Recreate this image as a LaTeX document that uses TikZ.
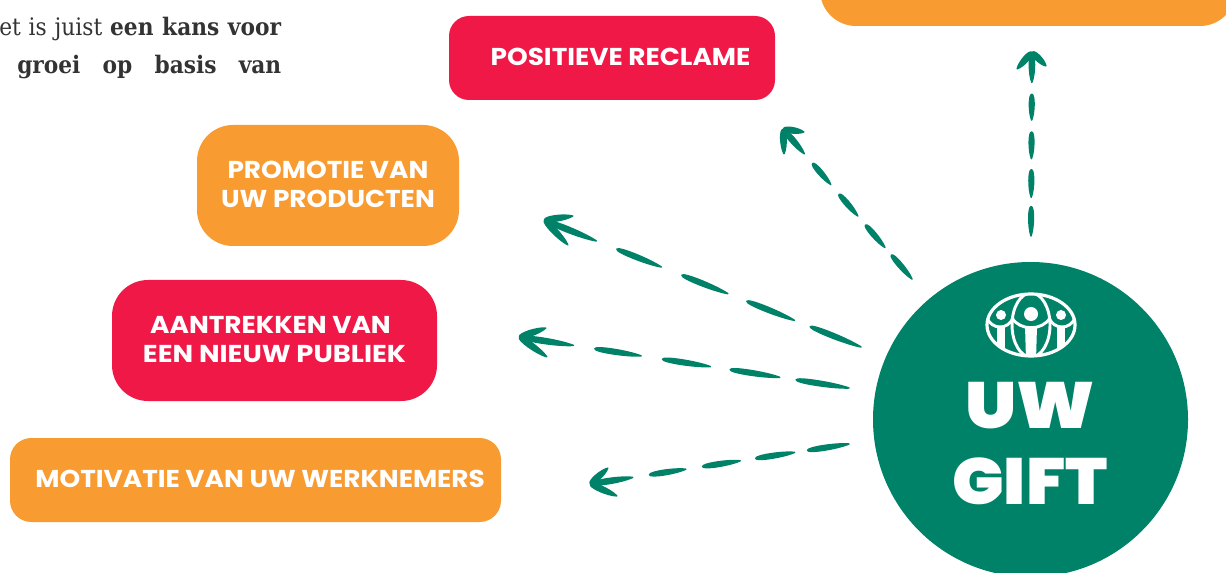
\documentclass[tikz,border=0pt]{standalone}
\usepackage{fontspec}
\usepackage{graphicx}
\usetikzlibrary{calc}
\setmainfont{DejaVu Serif Condensed}
\newfontfamily\lblfont{Poppins}[UprightFont=* SemiBold,BoldFont=* Bold,FakeStretch=1.08]
\newfontfamily\bigfont{Poppins}[UprightFont=* Black,FakeStretch=1.05]
\definecolor{gred}{HTML}{F01847}
\definecolor{gorange}{HTML}{F89B31}
\definecolor{ggreen}{HTML}{008268}
\definecolor{gtext}{HTML}{333333}
\tikzset{
  pill/.style={inner sep=0pt,text=white,align=center,text depth=1.5pt,font={\lblfont\bfseries\fontsize{18.3}{21.75}\selectfont}},
  para/.style={inner sep=0pt,text=gtext,anchor=base,font={\fontsize{18.1}{20}\selectfont}},
  flowfill/.style={fill=ggreen,draw=ggreen,line width=1.1pt,line join=round},
  logo/.style={draw=white,line width=2.2pt}
}
\newcommand\gdash[5]{%
  \coordinate (P) at ($(#1)!#3!(#2)$);
  \coordinate (Q) at ($(#1)!#4!(#2)$);
  \path[flowfill] (P) .. controls ($(P)!.3!(Q)!#5!90:(Q)$) and ($(Q)!#5!-90:(P)$) .. (Q)
    .. controls ($(Q)!#5!90:(P)$) and ($(P)!.3!(Q)!#5!-90:(Q)$) .. cycle;}
\newcommand\gflow[4]{%
  \foreach \ta/\tb in {0/.16,.21/.36,.42/.565,.63/.77}{\gdash{#1}{#2}{\ta}{\tb}{2.35pt}}
  \gdash{#1}{#2}{.835}{.99}{2.6pt}
  \gdash{#3}{#2}{0.01}{.98}{2.7pt}
  \gdash{#4}{#2}{0.01}{.98}{2.7pt}}
\begin{document}
\begin{tikzpicture}[x=.75pt,y=-.75pt]
\useasboundingbox (0,0) rectangle (1226,573);
% paragraph fragment
\node[para,anchor=base west] (p1) at (-1,36) {\makebox[211.5pt][s]{et is juist \textbf{een kans voor}}};
\node[para,anchor=base west] (p2) at (17,74) {\makebox[198pt][s]{\textbf{groei}\hfill\textbf{op}\hfill\textbf{basis}\hfill\textbf{van}}};
% boxes
\node[pill,fill=gorange,rounded corners=27pt,minimum width=312pt,minimum height=90pt] (top) at (1028,-34) {};
\node[pill,fill=gred,rounded corners=15pt,minimum width=244.5pt,minimum height=63pt] (pos) at (612,58) {\hspace*{12.75pt}POSITIEVE RECLAME};
\node[pill,fill=gorange,rounded corners=27pt,minimum width=196.5pt,minimum height=90.75pt] (pro) at (328,185.5) {PROMOTIE VAN\\UW PRODUCTEN};
\node[pill,fill=gred,rounded corners=27pt,minimum width=243.75pt,minimum height=90.75pt] (aan) at (274.5,340.5) {\hspace*{-6pt}AANTREKKEN VAN\\\scalebox{1.04}[1]{EEN NIEUW PUBLIEK}};
\node[pill,fill=gorange,rounded corners=16pt,minimum width=368.25pt,minimum height=63pt] (mot) at (255.5,480) {\hspace*{7pt}MOTIVATIE VAN UW WERKNEMERS};
% gift
\node[circle,fill=ggreen,inner sep=0pt,minimum size=236.25pt] (gift) at (1030.5,419.5) {};
\node[inner sep=0pt,text=white,anchor=base,font={\bigfont\fontsize{49}{57}\selectfont}] (uw) at (1030,428) {\scalebox{1.04}[1]{UW}};
\node[inner sep=0pt,text=white,anchor=base,font={\bigfont\fontsize{49}{57}\selectfont}] (giftt) at (1030,504) {GIFT};
% logo
\begin{scope}
  \clip (1031,325) ellipse [x radius=45,y radius=32];
  \draw[logo] (1031,325) ellipse [x radius=19,y radius=32];
  \draw[logo] (1012,318) .. controls (1020,331) and (1042,331) .. (1050,318);
  \draw[logo] (987,318) .. controls (992,330) and (1008,330) .. (1013,318);
  \draw[logo] (1049,318) .. controls (1054,330) and (1070,330) .. (1075,318);
  \fill[white] (1025,326) -- (1037,326) -- (1036,360) -- (1026,360) -- cycle;
  \fill[white] (997,326) -- (1005,326) -- (1005,360) -- (997,360) -- cycle;
  \fill[white] (1057,326) -- (1065,326) -- (1065,360) -- (1057,360) -- cycle;
  \fill[white] (1031,314) circle [radius=7];
  \fill[white] (1001,315) circle [radius=5];
  \fill[white] (1061,315) circle [radius=5];
\end{scope}
\draw[white,line width=2.4pt] (1031,325) ellipse [x radius=44,y radius=31];
% connectors
\coordinate (s1) at (861,347); \coordinate (t1) at (544,220); \coordinate (a1) at (573,216); \coordinate (b1) at (568,245);
\coordinate (s2) at (849,388); \coordinate (t2) at (519,337); \coordinate (a2) at (546,328); \coordinate (b2) at (547,357);
\coordinate (s3) at (849,444); \coordinate (t3) at (590,484); \coordinate (a3) at (608,468); \coordinate (b3) at (617,496);
\coordinate (s4) at (912,279); \coordinate (t4) at (783,129); \coordinate (a4) at (804,132); \coordinate (b4) at (784,154);
\coordinate (s5) at (1031,236); \coordinate (t5) at (1032,52); \coordinate (a5) at (1017,69); \coordinate (b5) at (1046,66);
\gflow{s1}{t1}{a1}{b1}
\gflow{s2}{t2}{a2}{b2}
\gflow{s3}{t3}{a3}{b3}
\gflow{s4}{t4}{a4}{b4}
\gflow{s5}{t5}{a5}{b5}
\end{tikzpicture}
\end{document}
